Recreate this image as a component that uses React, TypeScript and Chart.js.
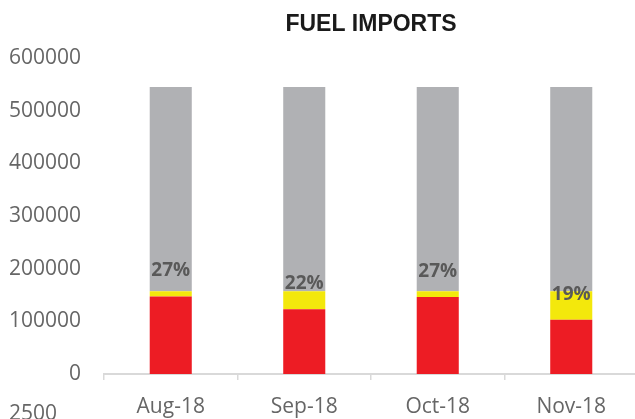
import React, { useEffect, useRef } from 'react';
import { Chart, registerables } from 'chart.js';

Chart.register(...registerables);

const categories = ['Aug-18', 'Sep-18', 'Oct-18', 'Nov-18'];
const redValues = [147000, 123000, 146000, 103000];
const yellowValues = [10000, 34000, 11000, 54000];
const grayValues = [388000, 388000, 388000, 388000];
const percentLabels = ['27%', '22%', '27%', '19%'];
const percentLabelPos = [196500, 171800, 193700, 150900];
const yMin = 0;
const yMax = 600000;
const yStep = 100000;
const titleText = 'FUEL IMPORTS';
const cutOffText = '2500';

const overlayPlugin = {
  id: 'overlay',
  afterDatasetsDraw(chart: any) {
    const ctx = chart.ctx;
    const meta = chart.getDatasetMeta(0);
    const yScale = chart.scales.y;
    ctx.save();
    ctx.font = 'bold 19px "Open Sans"';
    ctx.fillStyle = '#595959';
    ctx.textAlign = 'center';
    ctx.textBaseline = 'middle';
    percentLabels.forEach((t, i) => {
      const el = meta.data[i];
      ctx.fillText(t, el.x, yScale.getPixelForValue(percentLabelPos[i]));
    });
    ctx.restore();
  },
  afterDraw(chart: any) {
    const ctx = chart.ctx;
    const area = chart.chartArea;
    ctx.save();
    ctx.font = 'bold 23px "Liberation Sans"';
    ctx.fillStyle = '#1a1a1a';
    ctx.textAlign = 'center';
    ctx.textBaseline = 'alphabetic';
    ctx.fillText(titleText, (area.left + area.right) / 2, 31);
    ctx.font = '21px "Open Sans"';
    ctx.fillStyle = '#666666';
    ctx.textAlign = 'left';
    ctx.fillText(cutOffText, 9, 420);
    ctx.restore();
  },
};

export default function App() {
  const ref = useRef<HTMLCanvasElement>(null);
  useEffect(() => {
    const canvas = ref.current!;
    const chart = new Chart(canvas, {
      type: 'bar',
      data: {
        labels: categories,
        datasets: [
          { label: 'Red', data: redValues, backgroundColor: '#ED1C24', borderWidth: 0 },
          { label: 'Yellow', data: yellowValues, backgroundColor: '#F3E80C', borderWidth: 0 },
          { label: 'Gray', data: grayValues, backgroundColor: '#B0B1B4', borderWidth: 0 },
        ],
      },
      options: {
        responsive: false,
        animation: false,
        devicePixelRatio: 1,
        layout: { padding: { top: 58, left: 0, right: 0, bottom: 0 } },
        datasets: { bar: { categoryPercentage: 1, barPercentage: 0.315 } },
        plugins: {
          legend: { display: false },
          title: { display: false },
          tooltip: { enabled: false },
        },
        scales: {
          x: {
            stacked: true,
            grid: {
              display: true,
              drawOnChartArea: false,
              drawTicks: true,
              tickLength: 6,
              color: '#D9D9D9',
              lineWidth: 1.5,
            },
            border: { display: true, color: '#D9D9D9', width: 2 },
            ticks: {
              color: '#666666',
              font: { family: 'Open Sans', size: 21 },
              padding: 14,
              maxRotation: 0,
            },
            afterFit: (s: any) => { s.height = 45; },
          },
          y: {
            stacked: true,
            min: yMin,
            max: yMax,
            grid: { display: false, drawTicks: false },
            border: { display: false },
            ticks: {
              stepSize: yStep,
              color: '#666666',
              font: { family: 'Open Sans', size: 21 },
              padding: 23,
              callback: (v: any) => String(v),
            },
            afterFit: (s: any) => { s.width = 104; },
          },
        },
      },
      plugins: [overlayPlugin],
    });
    return () => chart.destroy();
  }, []);
  return (
    <div style={{ position: 'absolute', left: 0, top: 0, width: 635, height: 419, overflow: 'hidden', background: '#fff' }}>
      <canvas ref={ref} width={638} height={419} style={{ display: 'block' }} />
    </div>
  );
}
